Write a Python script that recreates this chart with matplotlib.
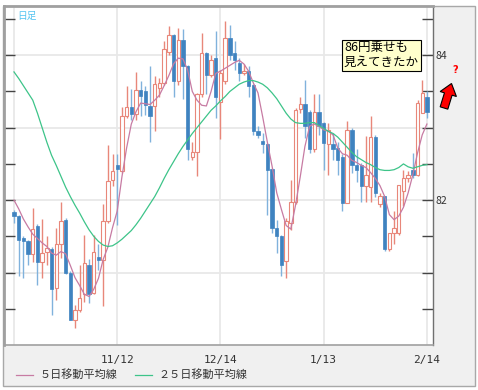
import numpy as np
import pandas as pd
import matplotlib
matplotlib.use('Agg')
import matplotlib.pyplot as plt
from matplotlib.patches import Rectangle, FancyArrow
from matplotlib.ticker import FixedLocator, FuncFormatter

plt.rcParams['font.family'] = ['Noto Sans CJK JP', 'DejaVu Sans']

# daily bars, 2010-10-13 .. 2011-02-14
dates = pd.bdate_range('2010-10-13', '2011-02-14')

opens = [81.84, 81.78, 81.48, 81.43, 81.26, 81.64, 81.14, 81.28, 81.33, 80.79,
         81.39, 81.73, 81.00, 80.34, 80.48, 80.70, 81.11, 80.72, 81.22, 81.18,
         81.71, 82.28, 82.49, 82.40, 83.16, 83.29, 83.19, 83.52, 83.50, 83.30,
         83.30, 83.55, 83.62, 84.05, 84.28, 83.64, 84.21, 83.85, 82.60, 82.67,
         83.46, 84.03, 83.73, 83.96, 83.35, 83.64, 84.24, 84.03, 83.89, 83.75,
         83.78, 83.59, 82.95, 82.82, 82.78, 82.43, 81.62, 81.51, 81.16, 81.69,
         81.98, 83.26, 83.33, 83.21, 82.70, 83.21, 83.06, 82.77, 82.77, 82.72,
         82.60, 81.96, 82.97, 82.49, 82.49, 82.20, 82.18, 82.87, 81.94, 82.06,
         81.32, 81.54, 81.55, 82.12, 82.31, 82.42, 82.35, 83.20, 83.43]
highs = [81.86, 81.80, 81.50, 81.45, 81.89, 81.67, 81.74, 81.50, 81.35, 81.62,
         81.97, 81.75, 81.02, 80.55, 81.10, 81.52, 81.19, 81.52, 81.40, 81.94,
         82.76, 82.63, 82.63, 83.28, 83.57, 83.53, 83.77, 83.65, 83.57, 83.85,
         83.72, 83.69, 84.20, 84.41, 84.30, 84.38, 84.36, 83.87, 82.80, 83.48,
         84.31, 84.05, 84.00, 84.33, 83.80, 84.47, 84.42, 84.19, 83.96, 83.88,
         83.85, 83.60, 83.02, 82.93, 82.79, 82.45, 81.73, 81.52, 81.75, 82.28,
         83.27, 83.42, 83.66, 83.25, 83.47, 83.46, 83.08, 83.06, 82.93, 82.80,
         82.63, 83.09, 83.00, 82.70, 82.51, 82.88, 83.16, 82.90, 82.10, 82.06,
         81.55, 81.85, 82.21, 82.42, 82.40, 82.65, 83.38, 83.66, 83.50]
lows = [81.69, 80.95, 80.93, 81.11, 81.14, 80.83, 80.92, 81.11, 80.42, 80.62,
        81.20, 80.98, 80.35, 80.24, 80.46, 80.59, 80.58, 80.70, 81.04, 80.54,
        81.69, 82.20, 81.66, 82.38, 83.14, 83.11, 83.11, 83.16, 83.18, 82.80,
        82.95, 83.43, 83.59, 84.00, 83.43, 83.59, 83.39, 82.56, 82.55, 82.33,
        83.43, 83.46, 83.70, 83.13, 82.85, 83.60, 83.94, 83.80, 83.64, 83.73,
        83.43, 82.90, 82.86, 82.65, 81.80, 81.55, 81.27, 80.95, 80.93, 81.59,
        81.95, 83.20, 82.86, 82.65, 82.67, 82.90, 82.42, 82.35, 82.56, 82.35,
        81.85, 81.96, 82.38, 82.25, 81.98, 81.98, 81.98, 82.05, 81.90, 81.30,
        81.30, 81.39, 81.52, 81.92, 82.25, 82.30, 82.33, 83.20, 83.13]
closes = [81.78, 81.45, 81.44, 81.25, 81.60, 81.14, 81.27, 81.34, 80.78, 81.39,
          81.71, 81.00, 80.35, 80.48, 80.65, 81.13, 80.70, 81.29, 81.17, 81.71,
          82.26, 82.40, 82.43, 83.16, 83.29, 83.19, 83.52, 83.44, 83.32, 83.16,
          83.60, 83.62, 84.09, 84.28, 83.64, 84.21, 83.85, 82.70, 82.67, 83.46,
          84.03, 83.73, 83.94, 83.43, 83.75, 84.24, 84.01, 83.94, 83.75, 83.78,
          83.57, 82.95, 82.90, 82.78, 82.42, 81.62, 81.50, 81.11, 81.71, 81.98,
          83.25, 83.33, 83.02, 82.70, 83.21, 83.02, 82.79, 82.97, 82.70, 82.56,
          81.96, 82.97, 82.49, 82.42, 82.19, 82.35, 82.87, 82.10, 82.06, 81.32,
          81.55, 81.62, 82.21, 82.30, 82.35, 82.35, 83.34, 83.48, 83.22]

ma5 = [82.00, 81.88, 81.74, 81.63, 81.53, 81.47, 81.41, 81.36, 81.27, 81.24,
       81.29, 81.26, 81.10, 80.93, 80.82, 80.70, 80.67, 80.77, 80.92, 81.18,
       81.35, 81.62, 81.85, 82.32, 82.72, 83.05, 83.22, 83.34, 83.33, 83.32,
       83.38, 83.45, 83.58, 83.72, 83.88, 83.96, 83.95, 83.80, 83.50, 83.38,
       83.31, 83.30, 83.50, 83.75, 83.78, 83.82, 83.86, 83.90, 83.93, 83.88,
       83.78, 83.62, 83.48, 83.15, 82.80, 82.47, 82.10, 81.87, 81.65, 81.60,
       81.93, 82.32, 82.74, 83.02, 83.05, 83.02, 82.97, 82.95, 82.90, 82.72,
       82.64, 82.62, 82.55, 82.52, 82.48, 82.45, 82.38, 82.30, 82.20, 82.05,
       81.80, 81.73, 81.78, 81.90, 82.10, 82.35, 82.65, 82.90, 83.05]
ma25 = [83.77, 83.68, 83.58, 83.48, 83.38, 83.20, 83.00, 82.80, 82.62, 82.48,
        82.33, 82.18, 82.05, 81.93, 81.82, 81.70, 81.59, 81.50, 81.43, 81.38,
        81.36, 81.37, 81.41, 81.46, 81.52, 81.58, 81.66, 81.75, 81.85, 81.95,
        82.05, 82.17, 82.30, 82.42, 82.53, 82.64, 82.74, 82.83, 82.92, 83.00,
        83.08, 83.16, 83.24, 83.30, 83.37, 83.43, 83.50, 83.55, 83.60, 83.63,
        83.65, 83.65, 83.63, 83.60, 83.55, 83.48, 83.40, 83.30, 83.20, 83.12,
        83.07, 83.06, 83.06, 83.07, 83.07, 83.03, 82.99, 82.95, 82.92, 82.87,
        82.80, 82.73, 82.66, 82.60, 82.56, 82.52, 82.49, 82.45, 82.42, 82.41,
        82.41, 82.42, 82.45, 82.50, 82.46, 82.44, 82.46, 82.48, 82.49]

grid_dates = ['2010-10-13', '2010-11-12', '2010-12-14', '2011-01-13', '2011-02-14']
right_labels = [82, 84]

up_col = '#E8877A'
down_col = '#3F83C0'
down_wick = '#80B2DC'

fig = plt.figure(figsize=(4.78, 3.90), dpi=100, facecolor='white')
fig.patches.append(Rectangle((3 / 478, 4 / 390), 472 / 478, 380 / 390, transform=fig.transFigure,
                             fc='#F0F0F0', ec='#A8A8A8', lw=1, zorder=-10))
ax = fig.add_axes([4 / 478, 45 / 390, 429 / 478, 339 / 390])
ax.set_facecolor('white')

x = np.arange(len(dates))
o, h, l, c = map(np.array, (opens, highs, lows, closes))
up = c >= o

ax.vlines(x[up], l[up], h[up], color=up_col, lw=1, zorder=2)
ax.vlines(x[~up], l[~up], h[~up], color=down_wick, lw=1, zorder=2)
ax.bar(x[up], c[up] - o[up], bottom=o[up], width=0.72, facecolor='white',
       edgecolor=up_col, lw=0.8, zorder=3)
ax.bar(x[~up], o[~up] - c[~up], bottom=c[~up], width=0.72, facecolor=down_col,
       edgecolor=down_col, lw=0.5, zorder=3)

l5, = ax.plot(x, ma5, color='#C77BA3', lw=0.9, zorder=4)
l25, = ax.plot(x, ma25, color='#3DC489', lw=0.9, zorder=4)

ax.set_xlim(-2.13, 89.3)
ax.set_ylim(80.0, 84.68)

# ticks & grid
tick_idx = [dates.get_loc(pd.Timestamp(d)) for d in grid_dates]
tick_lbl = [''] + [f'{dates[i].month}/{dates[i].day}' for i in tick_idx[1:]]
ax.set_xticks(tick_idx)
ax.set_xticklabels(tick_lbl, fontfamily='DejaVu Sans Mono')
ax.tick_params(axis='x', length=0, pad=7, labelsize=8, labelcolor='#333333')

ax.yaxis.set_major_locator(FixedLocator([81, 82, 83, 84]))
ax.yaxis.set_minor_locator(FixedLocator([80.5, 81.5, 82.5, 83.5, 84.5]))
ax.yaxis.set_major_formatter(FuncFormatter(lambda v, p: f'{v:.0f}' if round(v) in right_labels else ''))
ax.tick_params(axis='y', which='both', direction='in', length=8, width=1, color='#444444',
               left=True, right=True, labelleft=False, labelright=True,
               labelsize=7.5, labelcolor='#333333', pad=2)
ax.grid(axis='y', which='major', color='#E8E8E8', lw=1.3, zorder=0)
ax.grid(axis='x', color='#E8E8E8', lw=1.3, zorder=0)
ax.set_axisbelow(True)

for s in ('left', 'top'):
    ax.spines[s].set_color('#A0A0A0')
    ax.spines[s].set_linewidth(2)
ax.spines['bottom'].set_color('#A0A0A0')
ax.spines['bottom'].set_linewidth(1.2)
ax.spines['right'].set_color('#707070')
ax.spines['right'].set_linewidth(1)

ax.text(0.03, 0.985, '日足', transform=ax.transAxes, color='#55C4F0', fontsize=7, va='top')
ax.text(0.7925, 0.855, '86円乗せも\n見えてきたか', transform=ax.transAxes, fontsize=9,
        ha='left', va='center', linespacing=1.15, zorder=6,
        bbox=dict(boxstyle='square,pad=0.15', fc='#FFFFCC', ec='black', lw=0.8))

# red arrow and question mark in the right panel
fig.patches.append(FancyArrow(4.44, 2.82, 0.075, 0.245, width=0.08, head_width=0.17, head_length=0.11,
                              length_includes_head=True, transform=fig.dpi_scale_trans,
                              fc='red', ec='black', lw=0.8, zorder=5))
fig.text(455 / 478, (390 - 70) / 390, '?', color='red', fontsize=7, fontweight='bold',
         ha='center', va='center', family='DejaVu Sans')

fig.legend([l5, l25], ['５日移動平均線', '２５日移動平均線'], loc='center left',
           bbox_to_anchor=(16 / 478, 15 / 390), ncol=2, frameon=False, fontsize=8,
           handlelength=1.5, handletextpad=0.6, columnspacing=1.6, labelcolor='#333333',
           borderaxespad=0, borderpad=0)

fig.savefig('out.png', dpi=100)
